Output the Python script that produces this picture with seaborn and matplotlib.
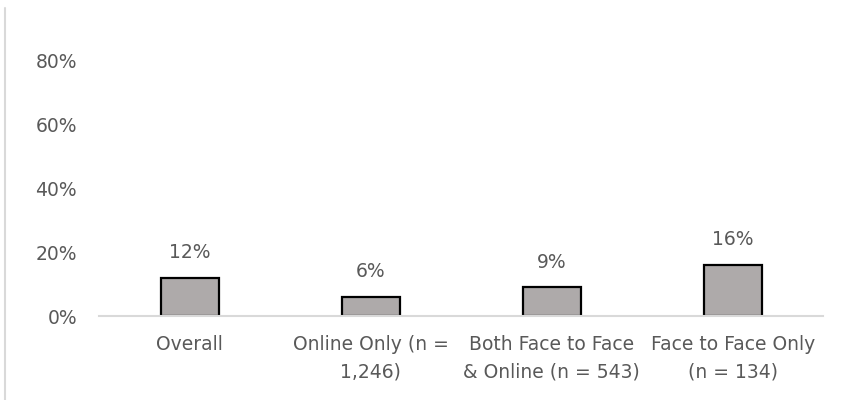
import matplotlib
matplotlib.use("Agg")
import matplotlib.pyplot as plt
import pandas as pd
import seaborn as sns
from matplotlib.lines import Line2D
from matplotlib.ticker import FuncFormatter

categories = [
    "Overall",
    "Online Only (n =\n1,246)",
    "Both Face to Face\n& Online (n = 543)",
    "Face to Face Only\n(n = 134)",
]
values = [0.12, 0.06, 0.09, 0.16]
value_labels = ["12%", "6%", "9%", "16%"]
y_ticks = [0.0, 0.2, 0.4, 0.6, 0.8]

TEXT = "#595959"
BAR = "#aeaaaa"
AXIS = "#d9d9d9"

sns.set_style("white")
plt.rcParams["font.family"] = ["DejaVu Sans"]

df = pd.DataFrame({"category": categories, "value": values})

fig = plt.figure(figsize=(8.41, 4.0), dpi=100)
ax = fig.add_axes([0.118, 0.21, 0.861, 0.72])

sns.barplot(data=df, x="category", y="value", color=BAR, width=0.32,
            edgecolor="black", linewidth=1.6, saturation=1, ax=ax)

for patch, label in zip(ax.patches, value_labels):
    ax.annotate(label, (patch.get_x() + patch.get_width() / 2, patch.get_height()),
                xytext=(0, 18), textcoords="offset points", ha="center", va="center",
                fontsize=13.5, color=TEXT)

ax.set_ylim(0, 0.9)
ax.set_xlim(-0.5, 3.5)
ax.set_yticks(y_ticks)
ax.yaxis.set_major_formatter(FuncFormatter(lambda v, _: f"{v:.0%}"))
ax.set_xlabel("")
ax.set_ylabel("")
ax.tick_params(axis="both", length=0, labelsize=13.5, labelcolor=TEXT)
ax.tick_params(axis="x", pad=14)
ax.tick_params(axis="y", pad=16)
for lbl in ax.get_xticklabels():
    lbl.set_linespacing(1.55)
for side in ["top", "right", "left"]:
    ax.spines[side].set_visible(False)
ax.spines["bottom"].set_color(AXIS)
ax.spines["bottom"].set_linewidth(1.5)

# chart frame edge on the left
fig.add_artist(Line2D([0.006, 0.006], [0.0, 0.98], color=AXIS, linewidth=1.5,
                      transform=fig.transFigure))

fig.savefig("out.png", dpi=100, facecolor="white")
